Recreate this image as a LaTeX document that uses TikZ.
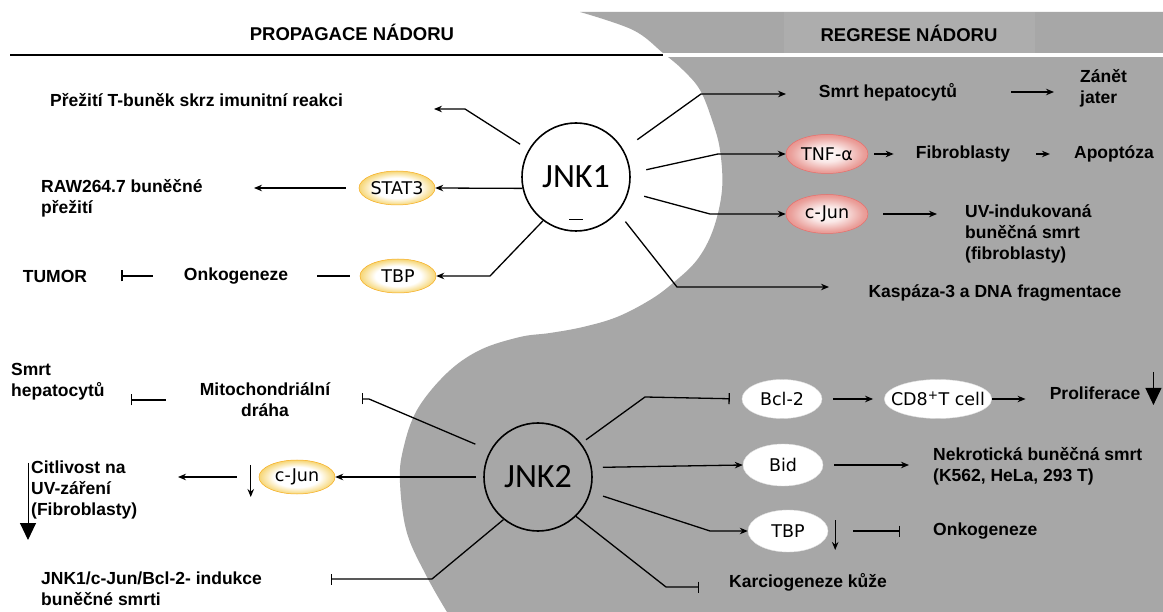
\documentclass[tikz,border=0pt]{standalone}
\usepackage{fontspec}
\setmainfont{Liberation Sans}
\newfontfamily\calfont{Carlito}
\newfontfamily\elfont{DejaVu Sans}
\usetikzlibrary{shapes.geometric, arrows.meta, positioning, calc}
\definecolor{regrey}{HTML}{A7A7A7}
\definecolor{boxgrey}{HTML}{ADADAD}
\definecolor{ringyellow}{HTML}{F2C12E}
\definecolor{ringpink}{HTML}{E58A84}
\pgfdeclareradialshading{yellowring}{\pgfpoint{0bp}{0bp}}{color(0bp)=(white); color(15bp)=(white); color(24bp)=(ringyellow!60!white); color(31bp)=(ringyellow!95!orange); color(50bp)=(ringyellow!95!orange)}
\pgfdeclareradialshading{pinkring}{\pgfpoint{0bp}{0bp}}{color(0bp)=(white); color(10bp)=(white!80!ringpink); color(22bp)=(ringpink!80!white); color(31bp)=(ringpink!90!red); color(50bp)=(ringpink!90!red)}

\tikzset{
    lbl/.style={font=\bfseries\fontsize{17.5}{21}\selectfont, inner sep=0pt, align=left},
    hdr/.style={font=\bfseries\fontsize{18.5}{22}\selectfont, inner sep=0pt},
    jnk/.style={circle, draw, line width=1.6pt, minimum size=108pt, inner sep=0pt, font=\calfont\fontsize{34}{40}\selectfont},
    yel/.style={ellipse, shading=yellowring, draw=ringyellow!70!orange, line width=0.5pt, minimum width=76pt, minimum height=34pt, inner sep=0pt, font=\elfont\fontsize{17.5}{20}\selectfont},
    pnk/.style={ellipse, shading=pinkring, draw=ringpink!80!red, line width=0.5pt, minimum width=82pt, minimum height=39pt, inner sep=0pt, font=\elfont\fontsize{17.5}{20}\selectfont},
    wht/.style={ellipse, fill=white, draw=white!88!black, line width=0.4pt, minimum width=80pt, minimum height=39pt, inner sep=0pt, font=\elfont\fontsize{17.5}{20}\selectfont},
    arr/.style={-{Stealth[length=8pt,width=6.5pt]}, line width=1.3pt},
    inh/.style={-{Bar[width=11pt]}, line width=1.3pt},
    plain/.style={line width=1.3pt},
    bigdown/.style={-{Triangle[width=16pt,length=17pt]}, line width=1pt},
}

\begin{document}
\begin{tikzpicture}[x=1pt, y=-1pt]
    \useasboundingbox (0,0) rectangle (1163,612);
    \fill[white] (0,0) rectangle (1163,612);

    % tumour regression side
    \fill[regrey] (1163,12) -- (1163,612) -- (447,612) -- plot[smooth, tension=0.6] coordinates {(447,612) (427,577) (407,533) (400,483) (403,450) (417,410) (447,373) (480,350) (520,337) (550,333) (583,327) (617,317) (650,300) (673,283) (697,260) (713,230) (722,190) (720,150) (712,120) (700,90) (683,70) (663,53) (633,30) (580,12)} -- cycle;
    \fill[boxgrey] (784,12) rectangle (1035,53);
    \fill[white] (663,53.5) rectangle (1163,57.5);
    \draw[line width=2pt] (10,55) -- (663,55);

    % headings
    \node[hdr] (prop) at (352,32) {PROPAGACE NÁDORU};
    \node[hdr] (regr) at (909,33) {REGRESE NÁDORU};

    % kinases
    \node[jnk, fill=white] (jnk1) at (576,177) {JNK1};
    \node[jnk] (jnk2) at (538,477) {JNK2};
    \draw[line width=1.2pt] ([xshift=-7pt,yshift=12pt]jnk1.south) -- ++(14,0);

    % JNK1 - propagace
    \node[lbl, anchor=west] (prez) at (50,100) {Přežití T-buněk skrz imunitní reakci};
    \node[yel] (stat3) at (397,188) {STAT3};
    \node[lbl, anchor=west] (raw) at (41,198) {RAW264.7 buněčné\\přežití};
    \node[yel] (tbp1) at (398,276) {TBP};
    \node[lbl] (onko1) at (236,276) {Onkogeneze};
    \node[lbl] (tumor) at (55,276) {TUMOR};

    % JNK1 - regrese
    \node[lbl] (smrt1) at (888,92) {Smrt hepatocytů};
    \node[lbl, anchor=west] (zanet) at (1080,88) {Zánět\\jater};
    \node[pnk] (tnf) at (827,154) {TNF-α};
    \node[lbl] (fibro) at (963,154) {Fibroblasty};
    \node[lbl] (apop) at (1114,154) {Apoptóza};
    \node[pnk] (cjun2) at (827,214) {c-Jun};
    \node[lbl, anchor=west] (uv) at (965,234) {UV-indukovaná\\buněčná smrt\\(fibroblasty)};
    \node[lbl] (kasp) at (995,293) {Kaspáza-3 a DNA fragmentace};

    % JNK2 - propagace
    \node[lbl, anchor=west] (smrt2) at (11,382) {Smrt\\hepatocytů};
    \node[lbl, align=center] (mito) at (265,400) {Mitochondriální\\dráha};
    \node[yel] (cjun1) at (297,477) {c-Jun};
    \node[lbl, anchor=west] (citl) at (31,490) {Citlivost na\\UV-záření\\(Fibroblasty)};
    \node[lbl, anchor=west] (indu) at (41,589) {JNK1/c-Jun/Bcl-2- indukce\\buněčné smrti};

    % JNK2 - regrese
    \node[wht] (bcl2) at (782,399) {Bcl-2};
    \node[wht, minimum width=102pt, inner xsep=-9pt] (cd8) at (938,399) {CD8\textsuperscript{+}T cell};
    \node[lbl] (prolif) at (1095,393) {Proliferace};
    \node[wht, minimum height=42pt] (bid) at (783,465) {Bid};
    \node[lbl, anchor=west] (nekro) at (933,466) {Nekrotická buněčná smrt\\(K562, HeLa, 293 T)};
    \node[wht, minimum height=42pt] (tbp2) at (788,531) {TBP};
    \node[lbl, anchor=west] (onko2) at (933,531) {Onkogeneze};
    \node[lbl, anchor=west] (karc) at (729,582) {Karciogeneze kůže};

    % bends and free ends
    \coordinate (p1) at (465,109);  \coordinate (p1e) at (434,109);
    \coordinate (rawe) at (254,188);
    \coordinate (t1) at (490,276);
    \coordinate (s1) at (701,94);   \coordinate (s1e) at (786,94);
    \coordinate (n1) at (718,154);
    \coordinate (c1) at (710,214);
    \coordinate (k1) at (677,287);  \coordinate (k1e) at (829,287);
    \coordinate (m1) at (369,399);  \coordinate (m1e) at (362,399);
    \coordinate (citle) at (178,477);
    \coordinate (i1) at (432,579);  \coordinate (i1e) at (331,579);
    \coordinate (b1) at (645,397);
    \coordinate (t2) at (710,531);
    \coordinate (k2) at (666,587);  \coordinate (k2e) at (699,587);

    % JNK1 connectors
    \draw[arr, shorten <=10pt] (jnk1.150) -- (p1) -- (p1e);
    \draw[arr] (jnk1.192) -- (stat3.east);
    \draw[arr, shorten <=13pt] (stat3.west) -- (rawe);
    \draw[arr] (jnk1.233) -- (t1) -- (tbp1.east);
    \draw[plain, shorten <=10pt, shorten >=29pt] (tbp1.west) -- (onko1.east);
    \draw[inh, shorten <=31pt, shorten >=34pt] (onko1.west) -- (tumor.east);
    \draw[arr, shorten <=17pt] (jnk1.30) -- (s1) -- (s1e);
    \draw[arr, shorten <=54pt, shorten >=26pt] (smrt1.east) -- (smrt1.east -| zanet.west);
    \draw[arr, shorten <=16pt] (jnk1.4) -- (n1) -- (tnf.west);
    \draw[arr, shorten <=6pt, shorten >=22pt] (tnf.east) -- (fibro.west);
    \draw[arr, shorten <=26pt, shorten >=24pt] (fibro.east) -- (apop.west);
    \draw[arr, shorten <=16pt] (jnk1.-16) -- (c1) -- (cjun2.west);
    \draw[arr, shorten <=15pt, shorten >=28pt] (cjun2.east) -- (cjun2.east -| uv.west);
    \draw[arr, shorten <=12pt] (jnk1.-40) -- (k1) -- (k1e);

    % JNK2 connectors
    \draw[inh, shorten <=16pt] (jnk2.151) -- (m1) -- (m1e);
    \draw[inh, shorten <=34pt, shorten >=26pt] (mito.west) -- (mito.west -| smrt2.east);
    \draw[arr, shorten <=7pt] (jnk2.180) -- (cjun1.east);
    \draw[arr, shorten <=22pt] (cjun1.west) -- (citle);
    \draw[arr] ([xshift=-8pt,yshift=12pt]cjun1.west) -- ++(0,32);
    \draw[bigdown] ([xshift=-3pt,yshift=27pt]citl.west) -- ++(0,77);
    \draw[inh] (jnk2.231) -- (i1) -- (i1e);
    \draw[inh, shorten <=6pt, shorten >=12pt] (jnk2.38) -- (b1) -- (bcl2.west);
    \draw[arr, shorten <=11pt, shorten >=11pt] (bcl2.east) -- (cd8.west);
    \draw[arr, shorten >=24pt] (cd8.east) -- (cd8.east -| prolif.west);
    \draw[bigdown] ([xshift=13pt,yshift=21pt]prolif.east) -- ++(0,33);
    \draw[arr, shorten <=11pt] (jnk2.10) -- (bid.west);
    \draw[arr, shorten <=11pt, shorten >=24pt] (bid.east) -- (bid.east -| nekro.west);
    \draw[arr, shorten <=13pt] (jnk2.-16) -- (t2) -- (tbp2.west);
    \draw[arr] ([xshift=7pt,yshift=11pt]tbp2.east) -- ++(0,30);
    \draw[inh, shorten <=25pt, shorten >=33pt] (tbp2.east) -- (onko2.west);
    \draw[inh] (jnk2.-46) -- (k2) -- (k2e);
\end{tikzpicture}
\end{document}
